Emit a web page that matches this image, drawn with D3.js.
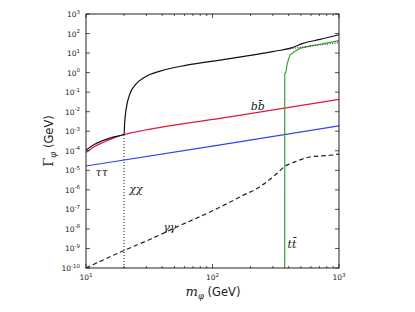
<!DOCTYPE html>
<html>
<head>
<meta charset="utf-8">
<script src="https://cdn.jsdelivr.net/npm/d3@7"></script>
<style>
  body { margin: 0; background: #fff; }
  svg text { fill: #222; }
</style>
</head>
<body>
<div id="chart"></div>
<script>
// masses (GeV) and widths (GeV)
const bbMass = [10, 11.6, 13.9, 16.6, 20, 28.7, 137, 1000];
const bbWidth = [8.1e-5, 1.6e-4, 2.8e-4, 4.6e-4, 6.8e-4, 1.12e-3, 5.4e-3, 4.3e-2];

const tautauMass = [10, 100, 1000];
const tautauWidth = [1.66e-5, 1.74e-4, 1.86e-3];

const totalMass = [10, 11.6, 13.9, 16.6, 20, 20.2, 20.7, 22.3, 24.4, 29.3, 38.5, 62.5, 114.5, 200, 285, 361, 374, 420, 519, 708, 1000];
const totalWidth = [1.07e-4, 2.1e-4, 3.5e-4, 5.1e-4, 7.0e-4, 2.5e-3, 1.2e-2, 8.5e-2, 0.23, 0.6, 1.2, 2.4, 4.4, 7.6, 11.2, 14.8, 15.5, 18.6, 31.6, 50, 87];

// total without the tt channel, above threshold
const noTopMass = [374, 450, 600, 800, 1000];
const noTopWidth = [15.5, 18.2, 22.9, 28.8, 33.9];

const ttMass = [372, 372.5, 378, 380, 390, 400, 410, 440, 490, 600, 708, 850, 1000];
const ttWidth = [1e-11, 0.91, 0.95, 1.1, 2.95, 5.0, 7.9, 11.2, 17.4, 23.4, 28.2, 35.5, 43];

const gagaMass = [10, 20, 32, 50.6, 108, 170, 237, 322, 374, 447, 590, 850, 1000];
const gagaWidth = [1e-10, 7.9e-10, 2.9e-9, 1.15e-8, 1.07e-7, 4.8e-7, 1.45e-6, 6.8e-6, 1.62e-5, 2.7e-5, 4.8e-5, 5.9e-5, 6.8e-5];

const chiThreshold = 20;
const chiThresholdWidth = 6.8e-4;

const xTickValues = [10, 100, 1000];
const xTickExp = ["1", "2", "3"];
const yTickExp = [3, 2, 1, 0, -1, -2, -3, -4, -5, -6, -7, -8, -9, -10];

const W = 415, H = 312;
const plotLeft = 86, plotRight = 339, plotTop = 14, plotBottom = 268;

const svg = d3.select("#chart").append("svg")
  .attr("width", W)
  .attr("height", H);

const x = d3.scaleLog().domain([10, 1000]).range([plotLeft, plotRight]);
const y = d3.scaleLog().domain([1e-10, 1e3]).range([plotBottom, plotTop]);

svg.append("defs").append("clipPath").attr("id", "plot")
  .append("rect")
  .attr("x", plotLeft).attr("y", plotTop)
  .attr("width", plotRight - plotLeft).attr("height", plotBottom - plotTop);

const plot = svg.append("g").attr("clip-path", "url(#plot)");

const zip = (ms, ws) => ms.map((m, i) => ({ m, w: ws[i] }));

const smooth = d3.line()
  .x((d) => x(d.m))
  .y((d) => y(d.w))
  .curve(d3.curveMonotoneX);

const straight = d3.line()
  .x((d) => x(d.m))
  .y((d) => y(d.w));

function draw(data, color, gen, dash) {
  plot.append("path")
    .datum(data)
    .attr("fill", "none")
    .attr("stroke", color)
    .attr("stroke-width", 1.2)
    .attr("stroke-dasharray", dash || null)
    .attr("d", gen);
}

// chi chi threshold marker
draw([{ m: chiThreshold, w: 1e-10 }, { m: chiThreshold, w: chiThresholdWidth }], "#333", straight, "1,2");
draw(zip(gagaMass, gagaWidth), "#222", smooth, "4.5,3");
draw(zip(tautauMass, tautauWidth), "#3340f0", straight);
draw(zip(bbMass, bbWidth), "#e0163f", smooth);
draw(zip(ttMass, ttWidth), "#36a336", straight);
draw(zip(noTopMass, noTopWidth), "#333", smooth, "1,1.5");
draw(zip(totalMass, totalWidth), "#111", smooth);

// frame
svg.append("rect")
  .attr("x", plotLeft).attr("y", plotTop)
  .attr("width", plotRight - plotLeft).attr("height", plotBottom - plotTop)
  .attr("fill", "none")
  .attr("stroke", "#222")
  .attr("stroke-width", 1);

// ticks (inside)
const ticks = svg.append("g").attr("stroke", "#222").attr("stroke-width", 0.8);
const minor = [];
[10, 100].forEach((d) => { for (let k = 2; k <= 9; k++) minor.push(d * k); });

xTickValues.forEach((v) => {
  ticks.append("line").attr("x1", x(v)).attr("x2", x(v)).attr("y1", plotBottom).attr("y2", plotBottom - 4);
  ticks.append("line").attr("x1", x(v)).attr("x2", x(v)).attr("y1", plotTop).attr("y2", plotTop + 4);
});
minor.forEach((v) => {
  ticks.append("line").attr("x1", x(v)).attr("x2", x(v)).attr("y1", plotBottom).attr("y2", plotBottom - 2);
  ticks.append("line").attr("x1", x(v)).attr("x2", x(v)).attr("y1", plotTop).attr("y2", plotTop + 2);
});
yTickExp.forEach((e) => {
  const yy = y(Math.pow(10, e));
  ticks.append("line").attr("x1", plotLeft).attr("x2", plotLeft + 4).attr("y1", yy).attr("y2", yy);
  ticks.append("line").attr("x1", plotRight).attr("x2", plotRight - 4).attr("y1", yy).attr("y2", yy);
});

// tick labels
const labelFont = "DejaVu Sans, sans-serif";
yTickExp.forEach((e) => {
  const t = svg.append("text")
    .attr("x", plotLeft - 6)
    .attr("y", y(Math.pow(10, e)) + 3)
    .attr("text-anchor", "end")
    .style("font-family", labelFont)
    .style("font-size", "7.5px");
  t.append("tspan").text("10");
  t.append("tspan").attr("dy", -3.5).style("font-size", "5.5px").text(e);
});
xTickValues.forEach((v, i) => {
  const t = svg.append("text")
    .attr("x", x(v))
    .attr("y", 280)
    .attr("text-anchor", "middle")
    .style("font-family", labelFont)
    .style("font-size", "7.5px");
  t.append("tspan").text("10");
  t.append("tspan").attr("dy", -3.5).style("font-size", "5.5px").text(xTickExp[i]);
});

// axis titles
const xt = svg.append("text")
  .attr("x", 213).attr("y", 296)
  .attr("text-anchor", "middle")
  .style("font-size", "11.5px");
xt.append("tspan").style("font-family", "DejaVu Serif, serif").style("font-style", "italic").style("font-size", "13px").text("m");
xt.append("tspan").attr("dy", 3).style("font-family", "DejaVu Serif, serif").style("font-style", "italic").style("font-size", "8.5px").text("φ");
xt.append("tspan").attr("dy", -3).style("font-family", labelFont).text("  (GeV)");

const yt = svg.append("text")
  .attr("transform", "translate(53,141) rotate(-90)")
  .attr("text-anchor", "middle")
  .style("font-size", "11.5px");
yt.append("tspan").style("font-family", "DejaVu Serif, serif").style("font-size", "13px").text("Γ");
yt.append("tspan").attr("dy", 3).style("font-family", "DejaVu Serif, serif").style("font-style", "italic").style("font-size", "8.5px").text("φ");
yt.append("tspan").attr("dy", -3).style("font-family", labelFont).text("  (GeV)");

// channel labels
const channelLabels = [
  { text: "ττ", m: 13.3, w: 5e-6 },
  { text: "χχ", m: 24.8, w: 6.6e-7 },
  { text: "γγ", m: 46, w: 8e-9 },
  { text: "bb̄", m: 228, w: 1.2e-2 },
  { text: "tt̄", m: 425, w: 1.1e-9 }
];
channelLabels.forEach((d) => {
  svg.append("text")
    .attr("x", x(d.m))
    .attr("y", y(d.w))
    .attr("text-anchor", "middle")
    .style("font-family", "DejaVu Serif, serif")
    .style("font-style", "italic")
    .style("font-size", "11px")
    .text(d.text);
});
</script>
</body>
</html>
